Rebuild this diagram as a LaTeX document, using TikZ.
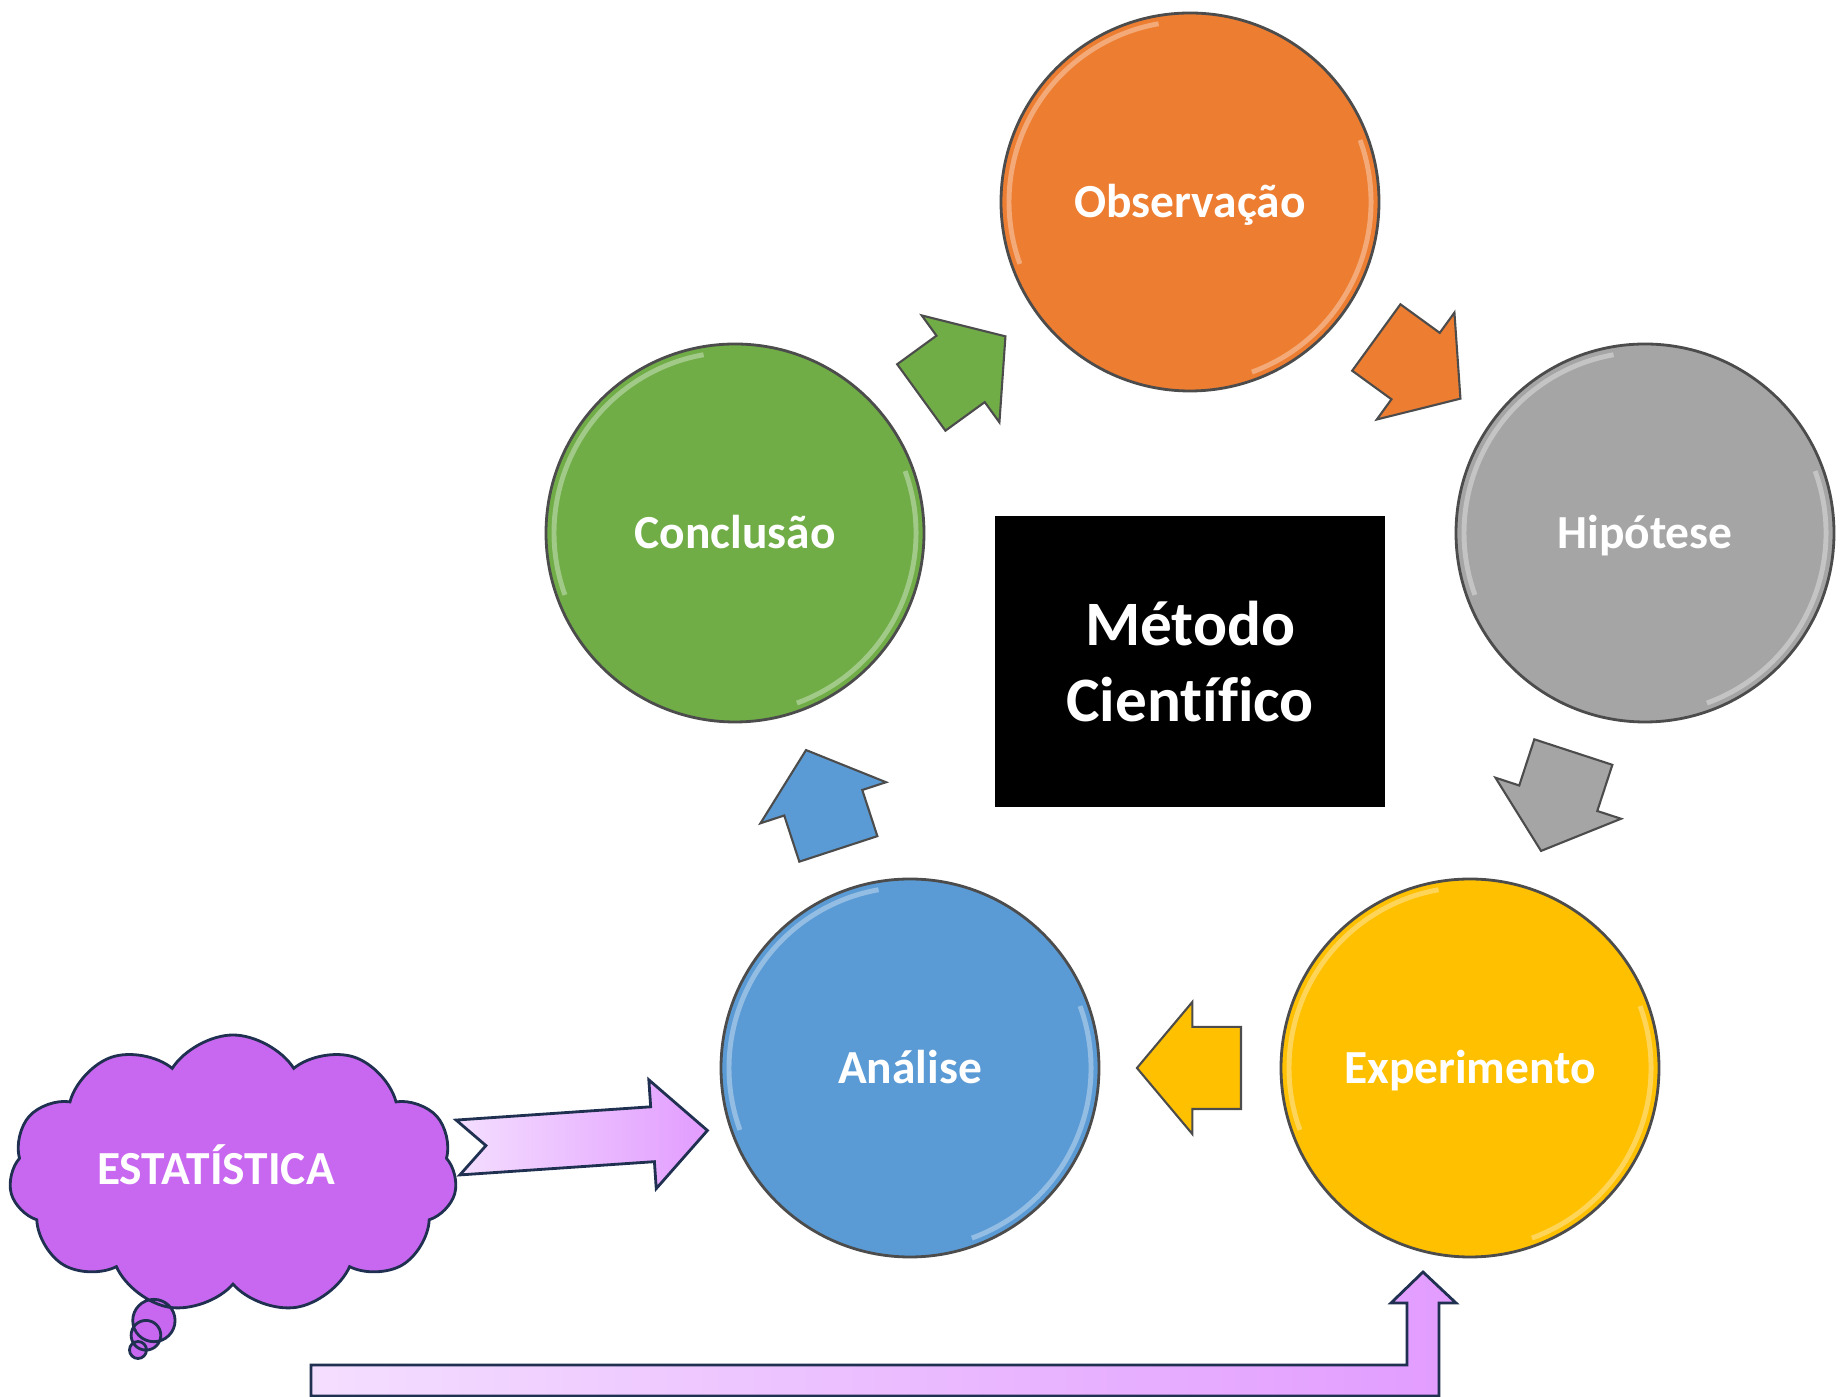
\documentclass[tikz,border=0pt]{standalone}
\usepackage{fontspec}
\setmainfont{Carlito}[Ligatures=NoCommon]
\usepackage{xcolor}
\usetikzlibrary{shapes.arrows, shapes.symbols, shapes.callouts, calc}

\definecolor{laranja}{HTML}{ED7D31}
\definecolor{verde}{HTML}{70AD47}
\definecolor{cinza}{HTML}{A5A5A5}
\definecolor{azul}{HTML}{5B9BD5}
\definecolor{amarelo}{HTML}{FFC000}
\definecolor{roxo}{HTML}{C867F0}
\definecolor{marinho}{HTML}{1F3050}
\definecolor{rosaclaro}{HTML}{F4DEFF}
\definecolor{rosa}{HTML}{E29CFF}

\tikzset{
  etapa/.style={circle, draw=black!70, line width=0.8pt, minimum size=3.78cm, inner sep=0pt,
    text=white, font=\fontsize{13.5}{16}\selectfont\bfseries, text height=0.87em, text depth=0pt,
    path picture={
      \draw[white, opacity=.35, line width=1.4pt] (path picture bounding box.center) ++(100:1.81) arc (100:200:1.81);
      \draw[white, opacity=.35, line width=1.4pt] (path picture bounding box.center) ++(-70:1.81) arc (-70:20:1.81);
    }},
  seta/.style={single arrow, draw=black!70, line width=0.6pt, inner xsep=0pt, inner ysep=0.4cm,
    minimum height=1.04cm, single arrow head extend=0.25cm, single arrow tip angle=100, anchor=tail},
  nuvem/.style={cloud callout, cloud puffs=11, cloud puff arc=115, aspect=1.6,
    minimum width=4.48cm, minimum height=2.78cm, inner sep=0pt,
    fill=roxo, draw=marinho, line width=0.8pt,
    callout pointer start size=0.55cm, callout pointer end size=0.17cm, callout pointer segments=3},
  rotulo/.style={text=white, font=\fontsize{13.5}{15}\selectfont\bfseries},
  grossa/.style={draw=marinho, line width=0.8pt, left color=rosaclaro, right color=rosa}
}

\begin{document}
\begin{tikzpicture}
  \useasboundingbox (0,0) rectangle (18.44,13.97);

  \node[etapa, fill=laranja] (obs) at (11.90,11.95) {Observação};
  \node[etapa, fill=cinza] (hip) at (16.45,8.64) {Hipótese};
  \node[etapa, fill=amarelo] (exp) at (14.70,3.29) {Experimento};
  \node[etapa, fill=azul] (ana) at (9.10,3.29) {Análise};
  \node[etapa, fill=verde] (conc) at (7.35,8.64) {Conclusão};

  \node[fill=black, minimum width=3.90cm, minimum height=2.91cm, text=white, align=center,
    font=\fontsize{18}{21.5}\selectfont\bfseries] (metodo) at (11.90,7.355) {Método\\Científico};

  % setas do ciclo
  \node[seta, fill=verde, rotate=36] (s1) at ($(conc)!.5!(obs)!-0.52cm!(obs)$) {};
  \node[seta, fill=laranja, rotate=-36] (s2) at ($(obs)!.5!(hip)!-0.52cm!(hip)$) {};
  \node[seta, fill=cinza, rotate=-108.1] (s3) at ($(hip)!.5!(exp)!-0.52cm!(exp)$) {};
  \node[seta, fill=amarelo, rotate=180] (s4) at ($(exp)!.5!(ana)!-0.52cm!(ana)$) {};
  \node[seta, fill=azul, rotate=108.1] (s5) at ($(ana)!.5!(conc)!-0.52cm!(conc)$) {};

  \coordinate (bolha) at (1.38,0.47);
  \node[nuvem, callout absolute pointer={(bolha)}] (est) at (2.33,2.23) {};
  \node[rotulo] (esttxt) at ($(est.center)+(-0.17,0.09)$) {ESTATÍSTICA};

  % seta para a analise
  \coordinate (cauda) at (4.58,2.495);
  \begin{scope}[shift={(cauda)}, rotate=3.9]
    \path[grossa] (0,0.275) -- (1.95,0.275) -- (1.95,0.545) -- (2.50,0) -- (1.95,-0.545)
      -- (1.95,-0.275) -- (0,-0.275) -- (0.28,0) -- cycle;
  \end{scope}

  % seta para o experimento
  \path[grossa] (3.11,0.32) -- (14.07,0.32) -- (14.07,0.94) -- (13.91,0.94) -- (14.23,1.25)
    -- (14.56,0.94) -- (14.39,0.94) -- (14.39,0.01) -- (3.11,0.01) -- cycle;
\end{tikzpicture}
\end{document}
